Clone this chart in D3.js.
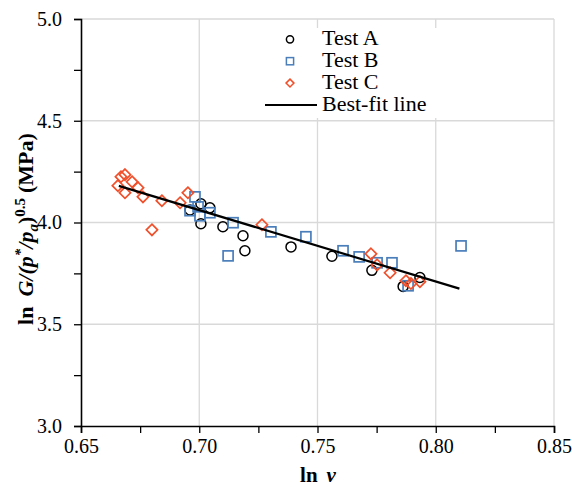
<!DOCTYPE html>
<html>
<head>
<meta charset="utf-8">
<script src="https://cdn.jsdelivr.net/npm/d3@7"></script>
<style>
  body { margin: 0; background: #fff; }
  svg { display: block; }
  svg text { font-family: "Liberation Serif", "Times New Roman", serif; }
</style>
</head>
<body>
<svg id="chart" width="572" height="487"></svg>
<script>
// Test A (circles): ln v, ln G/(p*/pa)^0.5
const testA_x = [0.6961, 0.7007, 0.7045, 0.7007, 0.7100, 0.7185, 0.7193, 0.7388, 0.7561, 0.7730, 0.7862, 0.7933];
const testA_y = [4.062, 4.092, 4.072, 3.994, 3.979, 3.935, 3.861, 3.880, 3.834, 3.765, 3.686, 3.730];

// Test B (squares)
const testB_x = [0.6982, 0.6961, 0.6995, 0.7003, 0.7045, 0.7143, 0.7122, 0.7303, 0.7451, 0.7608, 0.7676, 0.7752, 0.7815, 0.7883, 0.8107];
const testB_y = [4.126, 4.058, 4.077, 4.033, 4.048, 3.999, 3.836, 3.954, 3.930, 3.861, 3.831, 3.802, 3.802, 3.689, 3.885];

// Test C (diamonds)
const testC_x = [0.6656, 0.6669, 0.6686, 0.6686, 0.6716, 0.6741, 0.6762, 0.6842, 0.6919, 0.6952, 0.6800, 0.7265, 0.7726, 0.7752, 0.7807, 0.7874, 0.7895, 0.7933];
const testC_y = [4.181, 4.225, 4.235, 4.146, 4.200, 4.171, 4.126, 4.107, 4.097, 4.146, 3.964, 3.989, 3.846, 3.792, 3.753, 3.714, 3.700, 3.709];

// best-fit line endpoints
const fitX = [0.666, 0.810];
const fitY = [4.180, 3.675];

const xTicks = [0.65, 0.70, 0.75, 0.80, 0.85];
const yTicks = [3.0, 3.5, 4.0, 4.5, 5.0];
const xMinor = [0.675, 0.725, 0.775, 0.825];
const yMinor = [3.25, 3.75, 4.25, 4.75];

const legendLabels = ["Test A", "Test B", "Test C", "Best-fit line"];

const svg = d3.select("#chart");
const margin = { top: 19, right: 18, bottom: 61, left: 81 };
const width = 572 - margin.left - margin.right;
const height = 487 - margin.top - margin.bottom;

const x = d3.scaleLinear().domain([0.65, 0.85]).range([0, width]);
const y = d3.scaleLinear().domain([3.0, 5.0]).range([height, 0]);

const g = svg.append("g").attr("transform", `translate(${margin.left},${margin.top})`);

// gridlines
g.selectAll(".vgrid").data(xTicks.slice(1)).join("line")
  .attr("x1", d => x(d)).attr("x2", d => x(d))
  .attr("y1", 0).attr("y2", height)
  .attr("stroke", "#d9d9d9").attr("stroke-width", 1.3);
g.selectAll(".hgrid").data(yTicks.slice(1)).join("line")
  .attr("x1", 0).attr("x2", width)
  .attr("y1", d => y(d)).attr("y2", d => y(d))
  .attr("stroke", "#d9d9d9").attr("stroke-width", 1.3);

// axes
const xAxis = g.append("g").attr("transform", `translate(0,${height})`)
  .call(d3.axisBottom(x).tickValues(xTicks).tickFormat(d3.format(".2f")).tickSize(7).tickPadding(6));
const xMinorAxis = g.append("g").attr("transform", `translate(0,${height})`)
  .call(d3.axisBottom(x).tickValues(xMinor).tickFormat("").tickSize(7));
const yAxis = g.append("g")
  .call(d3.axisLeft(y).tickValues(yTicks).tickFormat(d3.format(".1f")).tickSize(7).tickPadding(12));
const yMinorAxis = g.append("g")
  .call(d3.axisLeft(y).tickValues(yMinor).tickFormat("").tickSize(7));

[xAxis, xMinorAxis, yAxis, yMinorAxis].forEach(a => {
  a.attr("font-family", null).attr("font-size", null);
  a.select(".domain").attr("stroke", "#000").attr("stroke-width", 1.6);
  a.selectAll(".tick line").attr("stroke", "#000").attr("stroke-width", 1.3);
  a.selectAll("text").attr("font-size", 20).attr("fill", "#000");
});
xMinorAxis.select(".domain").remove();
yMinorAxis.select(".domain").remove();

// points
const ptsA = testA_x.map((v, i) => [v, testA_y[i]]);
const ptsB = testB_x.map((v, i) => [v, testB_y[i]]);
const ptsC = testC_x.map((v, i) => [v, testC_y[i]]);

const blue = "#4a7ebb";
const red = "#f0502b";

g.selectAll(".ptA").data(ptsA).join("circle")
  .attr("cx", d => x(d[0])).attr("cy", d => y(d[1])).attr("r", 5)
  .attr("fill", "none").attr("stroke", "#000").attr("stroke-width", 1.5);

g.selectAll(".ptB").data(ptsB).join("rect")
  .attr("x", d => x(d[0]) - 5).attr("y", d => y(d[1]) - 5)
  .attr("width", 10).attr("height", 10)
  .attr("fill", "none").attr("stroke", blue).attr("stroke-width", 1.7);

const diamond = d3.symbol().type(d3.symbolDiamond2).size(80);
g.selectAll(".ptC").data(ptsC).join("path")
  .attr("d", diamond)
  .attr("transform", d => `translate(${x(d[0])},${y(d[1])})`)
  .attr("fill", "none").attr("stroke", red).attr("stroke-width", 1.7);

// best-fit line
g.append("line")
  .attr("x1", x(fitX[0])).attr("y1", y(fitY[0]))
  .attr("x2", x(fitX[1])).attr("y2", y(fitY[1]))
  .attr("stroke", "#000").attr("stroke-width", 2.2);

// legend
const lg = svg.append("g");
lg.append("rect").attr("x", 258).attr("y", 28).attr("width", 190).attr("height", 90).attr("fill", "#fff");
const lx = 290, ly0 = 39.3, step = 21.9;
lg.append("circle").attr("cx", lx).attr("cy", ly0).attr("r", 3.6)
  .attr("fill", "none").attr("stroke", "#000").attr("stroke-width", 1.5);
lg.append("rect").attr("x", lx - 3.6).attr("y", ly0 + step - 3.6).attr("width", 7.2).attr("height", 7.2)
  .attr("fill", "none").attr("stroke", blue).attr("stroke-width", 1.5);
lg.append("path").attr("d", d3.symbol().type(d3.symbolDiamond2).size(40))
  .attr("transform", `translate(${lx},${ly0 + 2 * step})`)
  .attr("fill", "none").attr("stroke", red).attr("stroke-width", 1.5);
lg.append("line").attr("x1", 265).attr("x2", 317).attr("y1", ly0 + 3 * step).attr("y2", ly0 + 3 * step)
  .attr("stroke", "#000").attr("stroke-width", 2.2);
lg.selectAll(".lt").data(legendLabels).join("text")
  .attr("x", 322).attr("y", (d, i) => ly0 + i * step + 5.8)
  .attr("font-size", 22).attr("fill", "#000")
  .text(d => d);

// x title
const xt = svg.append("text").attr("x", 318).attr("y", 482)
  .attr("text-anchor", "middle").attr("font-size", 21).attr("font-weight", "bold");
xt.append("tspan").text("ln");
xt.append("tspan").attr("dx", 9).attr("font-style", "italic").text("v");

// y title
const yt = svg.append("text")
  .attr("transform", "translate(33,229) rotate(-90)")
  .attr("text-anchor", "middle").attr("font-size", 22).attr("font-weight", "bold");
yt.append("tspan").text("ln");
yt.append("tspan").attr("dx", 10).attr("font-style", "italic").text("G/(p");
yt.append("tspan").attr("font-size", 15).attr("dy", -8).attr("font-style", "italic").text("*");
yt.append("tspan").attr("dy", 8).attr("font-style", "italic").text("/p");
yt.append("tspan").attr("font-size", 15).attr("dy", 5).attr("font-style", "italic").text("a");
yt.append("tspan").attr("dy", -5).text(")");
yt.append("tspan").attr("font-size", 15).attr("dy", -8).text("0.5");
yt.append("tspan").attr("dy", 8).attr("dx", 5).text("(MPa)");
</script>
</body>
</html>
